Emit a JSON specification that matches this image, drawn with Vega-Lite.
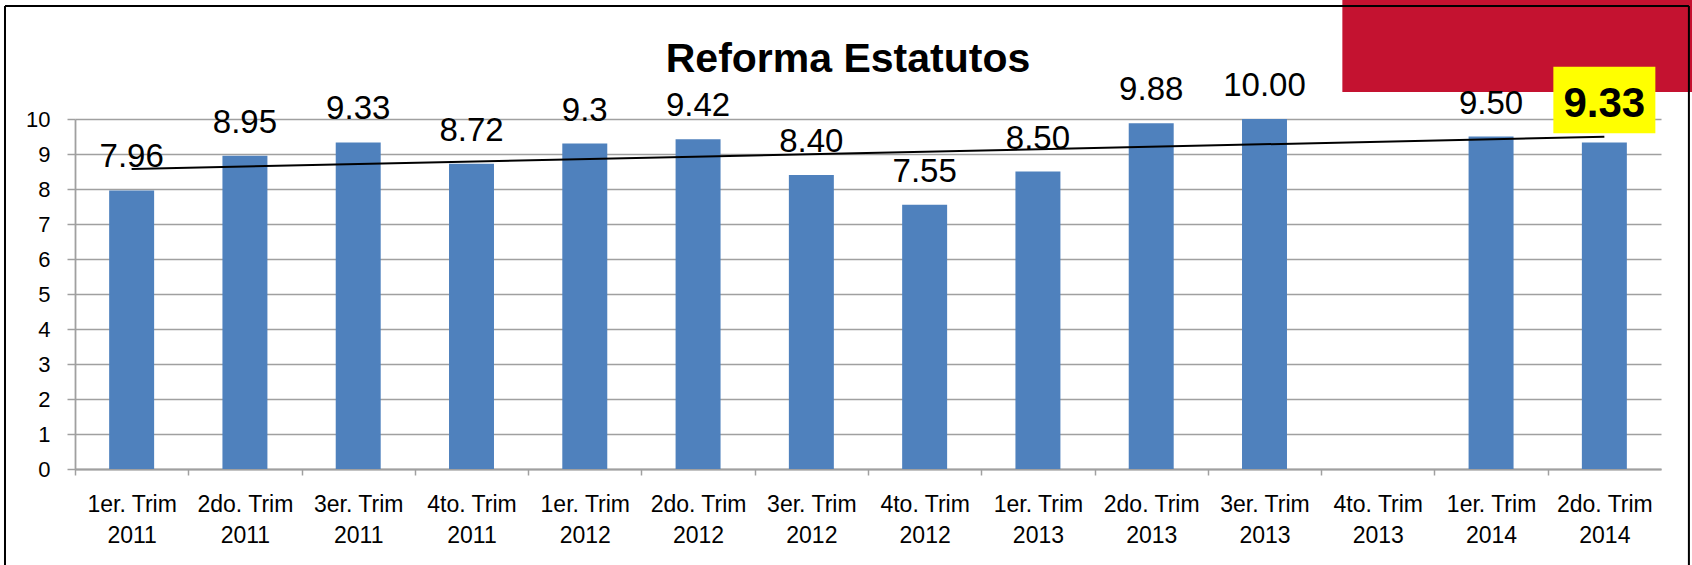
{
  "$schema": "https://vega.github.io/schema/vega-lite/v6.json",
  "width": 1586,
  "height": 350,
  "autosize": "none",
  "padding": {"left": 75, "top": 119, "right": 31, "bottom": 96},
  "background": "white",
  "config": {
    "font": "Liberation Sans",
    "view": {"stroke": null}
  },
  "title": {
    "text": "Reforma Estatutos",
    "fontSize": 41,
    "fontWeight": "bold",
    "color": "black",
    "anchor": "middle",
    "frame": "group",
    "offset": -81,
    "dx": -20
  },
  "datasets": {
    "main": [
      {"q": "1er. Trim 2011", "v": 7.96, "label": "7.96"},
      {"q": "2do. Trim 2011", "v": 8.95, "label": "8.95"},
      {"q": "3er. Trim 2011", "v": 9.33, "label": "9.33"},
      {"q": "4to. Trim 2011", "v": 8.72, "label": "8.72"},
      {"q": "1er. Trim 2012", "v": 9.3, "label": "9.3"},
      {"q": "2do. Trim 2012", "v": 9.42, "label": "9.42"},
      {"q": "3er. Trim 2012", "v": 8.40, "label": "8.40"},
      {"q": "4to. Trim 2012", "v": 7.55, "label": "7.55"},
      {"q": "1er. Trim 2013", "v": 8.50, "label": "8.50"},
      {"q": "2do. Trim 2013", "v": 9.88, "label": "9.88"},
      {"q": "3er. Trim 2013", "v": 10.00, "label": "10.00"},
      {"q": "4to. Trim 2013", "v": null, "label": null},
      {"q": "1er. Trim 2014", "v": 9.50, "label": "9.50"},
      {"q": "2do. Trim 2014", "v": 9.33, "label": "9.33"}
    ],
    "trend": [
      {"q": "1er. Trim 2011", "t": 8.57},
      {"q": "2do. Trim 2014", "t": 9.49}
    ],
    "frame": [
      {"part": "decoration"}
    ]
  },
  "data": {"name": "main"},
  "encoding": {
    "x": {
      "field": "q",
      "type": "nominal",
      "sort": null,
      "scale": {
        "domain": ["1er. Trim 2011", "2do. Trim 2011", "3er. Trim 2011", "4to. Trim 2011", "1er. Trim 2012", "2do. Trim 2012", "3er. Trim 2012", "4to. Trim 2012", "1er. Trim 2013", "2do. Trim 2013", "3er. Trim 2013", "4to. Trim 2013", "1er. Trim 2014", "2do. Trim 2014"],
        "paddingInner": 0.603,
        "paddingOuter": 0.3015
      },
      "axis": {
        "title": null,
        "labelAngle": 0,
        "labelExpr": "isString(datum.value) ? [slice(datum.value, 0, -5), slice(datum.value, -4)] : ''",
        "labelFontSize": 23,
        "labelColor": "black",
        "labelLineHeight": 31.7,
        "labelPadding": 18,
        "labelBaseline": "top",
        "tickOffset": -56.65,
        "labelOffset": 56.65,
        "tickSize": 6,
        "tickColor": "#a0a0a0",
        "tickWidth": 1.5,
        "domainColor": "#a0a0a0",
        "domainWidth": 1.8,
        "grid": false
      }
    },
    "y": {
      "type": "quantitative",
      "scale": {"domain": [0, 10], "nice": false},
      "axis": {
        "title": null,
        "values": [0, 1, 2, 3, 4, 5, 6, 7, 8, 9, 10],
        "labelFontSize": 22,
        "labelColor": "black",
        "labelPadding": 17,
        "tickSize": 8,
        "tickColor": "#a0a0a0",
        "tickWidth": 1.5,
        "domainColor": "#a0a0a0",
        "domainWidth": 1.8,
        "grid": true,
        "gridColor": "#a0a0a0",
        "gridWidth": 1.6
      }
    }
  },
  "layer": [
    {
      "data": {"name": "frame"},
      "mark": {"type": "bar", "color": "#C41230", "width": 524},
      "encoding": {
        "x": {"datum": "2do. Trim 2014"},
        "y": {"datum": 10.77, "type": "quantitative", "scale": {"domain": [0, 10], "nice": false}},
        "y2": {"datum": 13.4}
      }
    },
    {
      "data": {"name": "frame"},
      "mark": {"type": "rule", "color": "black", "strokeWidth": 2},
      "encoding": {
        "x": {"datum": "1er. Trim 2011", "bandPosition": -2.316},
        "y": {"datum": 13.23, "type": "quantitative", "scale": {"domain": [0, 10], "nice": false}},
        "y2": {"datum": -3}
      }
    },
    {
      "data": {"name": "frame"},
      "mark": {"type": "rule", "color": "black", "strokeWidth": 2},
      "encoding": {
        "x": {"datum": "2do. Trim 2014", "bandPosition": 2.38},
        "y": {"datum": 13.23, "type": "quantitative", "scale": {"domain": [0, 10], "nice": false}},
        "y2": {"datum": -3}
      }
    },
    {
      "data": {"name": "frame"},
      "mark": {"type": "rule", "color": "black", "strokeWidth": 2},
      "encoding": {
        "x": {"datum": "1er. Trim 2011", "bandPosition": -2.316},
        "x2": {"datum": "2do. Trim 2014", "bandPosition": 2.38},
        "y": {"datum": 13.23, "type": "quantitative", "scale": {"domain": [0, 10], "nice": false}}
      }
    },
    {
      "mark": {"type": "bar", "color": "#4F81BD"},
      "encoding": {"y": {"field": "v", "type": "quantitative", "scale": {"domain": [0, 10], "nice": false}}}
    },
    {
      "data": {"name": "trend"},
      "mark": {"type": "line", "color": "black", "strokeWidth": 2},
      "encoding": {"y": {"field": "t", "type": "quantitative", "scale": {"domain": [0, 10], "nice": false}}}
    },
    {
      "transform": [{"filter": "datum.q != '2do. Trim 2014' && datum.v != null"}],
      "mark": {"type": "text", "fontSize": 33, "align": "center", "baseline": "alphabetic", "dy": -23, "color": "black"},
      "encoding": {
        "y": {"field": "v", "type": "quantitative", "scale": {"domain": [0, 10], "nice": false}},
        "text": {"field": "label", "type": "nominal"}
      }
    },
    {
      "transform": [{"filter": "datum.q == '2do. Trim 2014'"}],
      "mark": {"type": "bar", "color": "#FFFF00", "width": 102},
      "encoding": {
        "y": {"datum": 9.59, "type": "quantitative", "scale": {"domain": [0, 10], "nice": false}},
        "y2": {"datum": 11.49}
      }
    },
    {
      "transform": [{"filter": "datum.q == '2do. Trim 2014'"}],
      "mark": {"type": "text", "fontSize": 42, "fontWeight": "bold", "align": "center", "baseline": "alphabetic", "dy": -25, "color": "black"},
      "encoding": {
        "y": {"field": "v", "type": "quantitative", "scale": {"domain": [0, 10], "nice": false}},
        "text": {"field": "label", "type": "nominal"}
      }
    }
  ]
}
